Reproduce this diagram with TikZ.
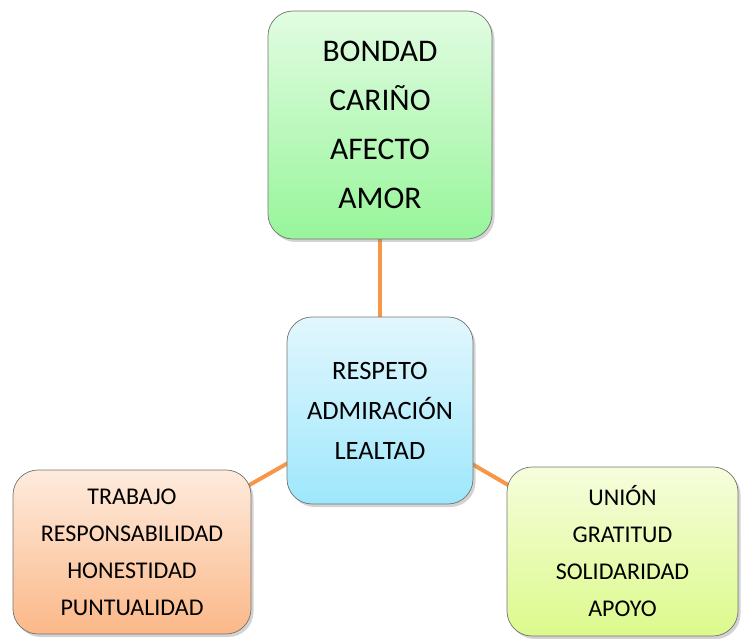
\documentclass[tikz,border=0pt]{standalone}
\usepackage{fontspec}
\setmainfont{Carlito}
\usetikzlibrary{shadows,backgrounds}
\definecolor{linkorange}{HTML}{F79646}
\definecolor{gtop}{HTML}{E2FCE2}
\definecolor{gbot}{HTML}{97F59A}
\definecolor{btop}{HTML}{E2F7FD}
\definecolor{bbot}{HTML}{9EE7FC}
\definecolor{otop}{HTML}{FEEBDD}
\definecolor{obot}{HTML}{FBB888}
\definecolor{ytop}{HTML}{F6FDDC}
\definecolor{ybot}{HTML}{DCFA8C}
\tikzset{
  box/.style={draw=black!55, line width=0.7pt, rounded corners=25pt, align=center,
    inner sep=0pt, drop shadow={shadow xshift=2.5pt, shadow yshift=-3pt, opacity=0.35}},
  link/.style={draw=linkorange, line width=4pt}
}
\begin{document}
\begin{tikzpicture}[x=1pt,y=-1pt]
\useasboundingbox (0,0) rectangle (742,639);
\node[box, minimum width=224pt, minimum height=228pt, top color=gtop, bottom color=gbot,
  font=\fontsize{31.5}{49}\selectfont] (t) at (380,125) {BONDAD\\CARIÑO\\AFECTO\\AMOR};
\node[box, minimum width=186pt, minimum height=187pt, top color=btop, bottom color=bbot,
  font=\fontsize{26.5}{40}\selectfont] (c) at (380,410.5) {RESPETO\\ADMIRACIÓN\\LEALTAD};
\node[box, minimum width=238pt, minimum height=164pt, top color=otop, bottom color=obot,
  font=\fontsize{24}{37}\selectfont] (l) at (132,552) {TRABAJO\\RESPONSABILIDAD\\HONESTIDAD\\PUNTUALIDAD};
\node[box, minimum width=231pt, minimum height=169pt, top color=ytop, bottom color=ybot,
  font=\fontsize{24}{37}\selectfont] (r) at (622.5,551.5) {UNIÓN\\GRATITUD\\SOLIDARIDAD\\APOYO};
\begin{pgfonlayer}{background}
\draw[link] (t.center) -- (c.center);
\draw[link] (c.center) -- (l.center);
\draw[link] (c.center) -- (r.center);
\end{pgfonlayer}
\end{tikzpicture}
\end{document}
